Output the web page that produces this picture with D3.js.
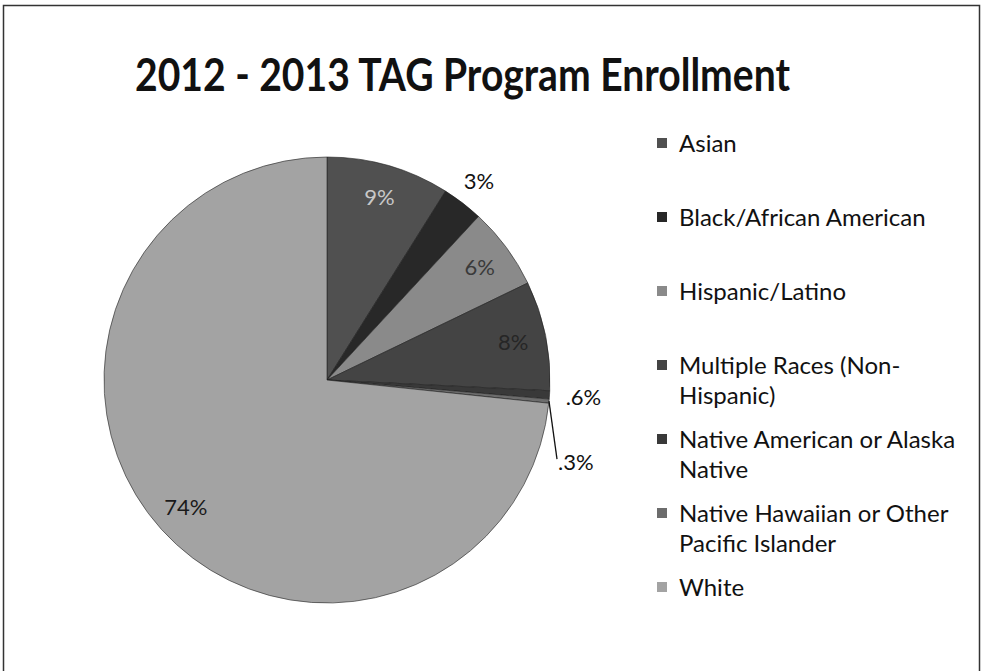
<!DOCTYPE html>
<html>
<head>
<meta charset="utf-8">
<script src="https://cdn.jsdelivr.net/npm/d3@7"></script>
<style>
  html, body { margin: 0; padding: 0; background: #fff; }
  svg { display: block; }
  text { font-family: Lato, "Open Sans", "DejaVu Sans", sans-serif; }
</style>
</head>
<body>
<svg id="chart" width="982" height="671"></svg>
<script>
// Enrollment share by group, 2012-2013
const categories = [
  "Asian",
  "Black/African American",
  "Hispanic/Latino",
  "Multiple Races (Non-Hispanic)",
  "Native American or Alaska Native",
  "Native Hawaiian or Other Pacific Islander",
  "White"
];
const values = [9, 3, 6, 8, 0.6, 0.3, 74];
const valueLabels = ["9%", "3%", "6%", "8%", ".6%", ".3%", "74%"];
// legend lines as wrapped in the legend box
const legendLines = [
  ["Asian"],
  ["Black/African American"],
  ["Hispanic/Latino"],
  ["Multiple Races (Non-", "Hispanic)"],
  ["Native American or Alaska", "Native"],
  ["Native Hawaiian or Other", "Pacific Islander"],
  ["White"]
];
const sliceColors = ["#505050", "#282828", "#8a8a8a", "#444444", "#393939", "#6c6c6c", "#a3a3a3"];
const labelColors = ["#c8c8c8", "#111", "#3a3a3a", "#262626", "#111", "#111", "#1a1a1a"];

const svg = d3.select("#chart");

// outer frame
svg.append("rect")
  .attr("x", 3.5).attr("y", 5.5)
  .attr("width", 976).attr("height", 680)
  .attr("fill", "none").attr("stroke", "#333").attr("stroke-width", 1.5);

// title, set in a tall condensed bold face
svg.append("text")
  .attr("x", 135).attr("y", 91)
  .attr("font-size", 46).attr("font-weight", 700)
  .attr("textLength", 655)
  .attr("lengthAdjust", "spacingAndGlyphs")
  .attr("fill", "#111")
  .text("2012 - 2013 TAG Program Enrollment");

// pie
const cx = 327, cy = 380, R = 223;
const pie = d3.pie().sort(null).value(d => d.value);
const data = categories.map((c, i) => ({ name: c, value: values[i], label: valueLabels[i], i }));
const arcs = pie(data);
const arc = d3.arc().innerRadius(0).outerRadius(R);

const g = svg.append("g").attr("transform", `translate(${cx},${cy})`);
g.selectAll("path.slice")
  .data(arcs)
  .join("path")
  .attr("class", "slice")
  .attr("d", arc)
  .attr("fill", d => sliceColors[d.data.i])
  .attr("stroke", "#222")
  .attr("stroke-width", 0.6);

// label placement: inside for large slices, outside for thin ones
const insideArc = d3.arc().innerRadius(190).outerRadius(190);
const outsideArc = d3.arc().innerRadius(250).outerRadius(250);
const edgeArc = d3.arc().innerRadius(R).outerRadius(R);

arcs.forEach(a => {
  const i = a.data.i;
  let x, y, anchor = "middle";
  if (a.data.value >= 5) {
    [x, y] = insideArc.centroid(a);
  } else if (a.data.value >= 1) {
    [x, y] = outsideArc.centroid(a);
  } else if (a.data.value >= 0.5) {
    [x, y] = d3.arc().innerRadius(257).outerRadius(257).centroid(a);
  } else {
    // thin slice: leader line from the rim down to the label
    const [ex, ey] = edgeArc.centroid(a);
    const lx = ex + 8, ly = ey + 58;
    g.append("line")
      .attr("x1", ex).attr("y1", ey).attr("x2", lx).attr("y2", ly)
      .attr("stroke", "#111").attr("stroke-width", 1.3);
    x = lx + 1; y = ly + 3; anchor = "start";
  }
  g.append("text")
    .attr("x", x).attr("y", y)
    .attr("dy", "0.35em")
    .attr("text-anchor", anchor)
    .attr("font-size", 22)
    .attr("fill", labelColors[i])
    .text(a.data.label);
});

// legend
const legendX = 657;
const firstRowY = 143;   // vertical centre of the first legend line
const rowStep = 74;
const lineGap = 30;
const legend = svg.append("g");
legendLines.forEach((lines, i) => {
  const y0 = firstRowY + i * rowStep;
  legend.append("rect")
    .attr("x", legendX).attr("y", y0 - 5)
    .attr("width", 10).attr("height", 10)
    .attr("fill", sliceColors[i]);
  lines.forEach((t, k) => {
    legend.append("text")
      .attr("x", legendX + 22).attr("y", y0 + k * lineGap)
      .attr("dy", "0.36em")
      .attr("font-size", 24)
      .attr("fill", "#111")
      .text(t);
  });
});
</script>
</body>
</html>
